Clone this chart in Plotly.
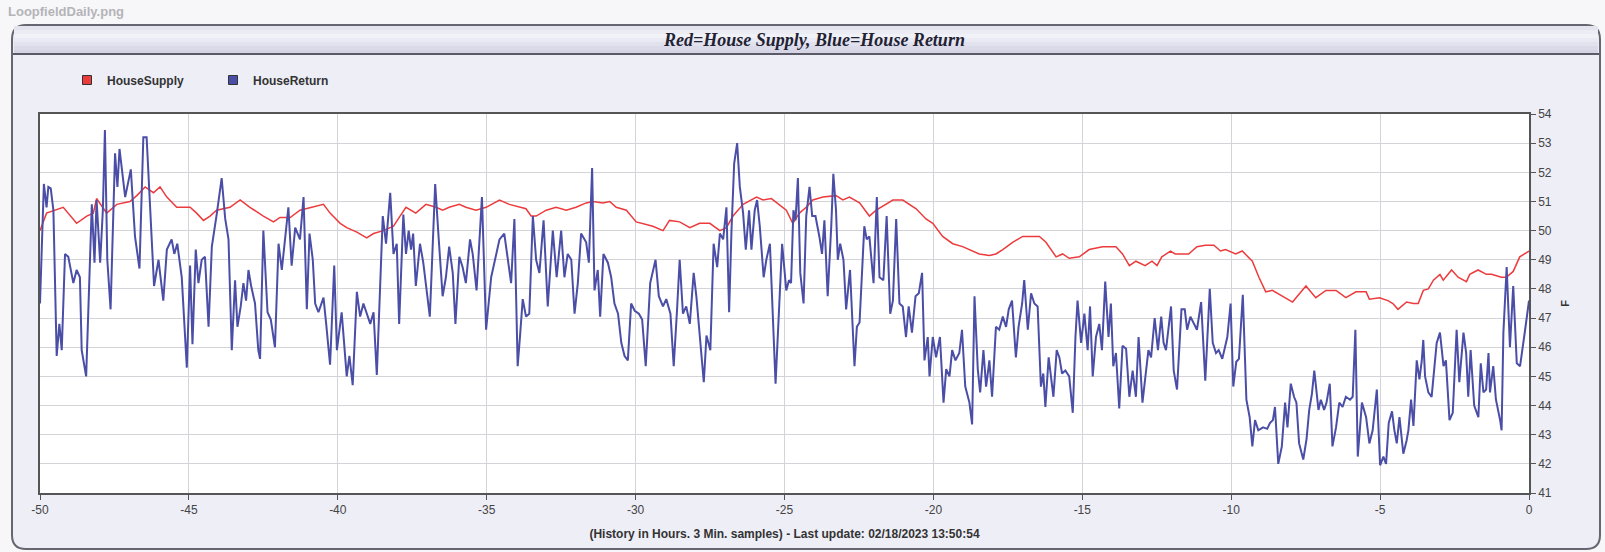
import plotly.graph_objects as go

# ---------------- data (hours before last update, degrees F) ----------------
supply_hours = [
    -50.0, -49.78, -49.22, -48.77, -48.43, -48.21, -48.10, -47.76, -47.42, -46.98,
    -46.75, -46.47, -46.19, -45.97, -45.74, -45.41, -44.96, -44.74, -44.51, -44.29,
    -44.07, -43.62, -43.28, -42.95, -42.50, -42.16, -41.94, -41.60, -41.27, -40.82,
    -40.48, -40.26, -39.92, -39.70, -39.36, -39.03, -38.80, -38.47, -38.13, -37.91,
    -37.71, -37.38, -37.04, -36.70, -36.48, -36.26, -35.92, -35.70, -35.36, -35.02,
    -34.57, -34.24, -33.90, -33.68, -33.51, -33.34, -33.00, -32.67, -32.33, -32.00,
    -31.66, -31.43, -31.10, -30.87, -30.65, -30.31, -29.98, -29.64, -29.42, -29.08,
    -28.86, -28.52, -28.18, -27.85, -27.51, -27.17, -26.95, -26.73, -26.39, -25.94,
    -25.72, -25.44, -25.17, -24.94, -24.72, -24.50, -24.27, -24.05, -23.71, -23.27,
    -23.04, -22.82, -22.48, -22.15, -21.92, -21.59, -21.36, -21.03, -20.81, -20.58,
    -20.25, -20.02, -19.69, -19.35, -19.02, -18.79, -18.46, -18.12, -17.90, -17.67,
    -17.34, -17.00, -16.67, -16.44, -16.22, -15.88, -15.66, -15.44, -15.10, -14.77,
    -14.32, -13.87, -13.65, -13.42, -13.20, -12.89, -12.66, -12.49, -12.33, -12.04,
    -11.88, -11.65, -11.43, -11.15, -10.87, -10.58, -10.36, -10.19, -9.85, -9.63,
    -9.29, -9.07, -8.84, -8.62, -8.28, -7.94, -7.78, -7.49, -7.16, -6.82,
    -6.48, -6.15, -5.81, -5.47, -5.36, -5.02, -4.74, -4.57, -4.40, -4.11,
    -3.88, -3.72, -3.55, -3.38, -3.21, -2.99, -2.88, -2.60, -2.38, -2.10,
    -1.99, -1.71, -1.43, -1.26, -1.09, -0.93, -0.76, -0.53, -0.31, -0.14,
    0.0,
]
supply_f = [
    50.0, 50.6, 50.8, 50.25, 50.5, 50.6, 51.1, 50.6, 50.9, 51.0,
    51.2, 51.5, 51.3, 51.5, 51.15, 50.8, 50.8, 50.6, 50.35, 50.5,
    50.7, 50.8, 51.05, 50.8, 50.5, 50.3, 50.45, 50.45, 50.7, 50.8,
    50.9, 50.6, 50.25, 50.1, 49.95, 49.75, 49.9, 50.0, 50.15, 50.5,
    50.8, 50.6, 50.9, 50.8, 50.7, 50.8, 50.9, 50.8, 50.7, 50.8,
    51.05, 50.9, 50.8, 50.75, 50.5, 50.5, 50.7, 50.8, 50.7, 50.8,
    50.95, 51.0, 50.95, 51.0, 50.8, 50.7, 50.3, 50.2, 50.15, 50.0,
    50.35, 50.3, 50.1, 50.25, 50.25, 50.0, 50.1, 50.5, 50.9, 51.15,
    51.05, 51.1, 50.9, 50.7, 50.25, 50.6, 50.8, 51.05, 51.15, 51.2,
    51.05, 51.15, 50.95, 50.5, 50.7, 50.9, 51.05, 51.05, 50.9, 50.75,
    50.4, 50.25, 49.8, 49.55, 49.45, 49.35, 49.2, 49.15, 49.2, 49.35,
    49.6, 49.8, 49.8, 49.8, 49.6, 49.1, 49.2, 49.05, 49.1, 49.35,
    49.45, 49.45, 49.2, 48.8, 48.95, 48.8, 48.95, 48.8, 49.1, 49.3,
    49.2, 49.2, 49.2, 49.45, 49.5, 49.5, 49.3, 49.35, 49.2, 49.3,
    48.95, 48.4, 47.9, 47.95, 47.75, 47.55, 47.75, 48.1, 47.7, 47.95,
    47.95, 47.7, 47.9, 47.9, 47.65, 47.7, 47.6, 47.5, 47.3, 47.55,
    47.5, 47.5, 47.95, 48.0, 48.3, 48.5, 48.3, 48.65, 48.4, 48.25,
    48.5, 48.65, 48.5, 48.5, 48.45, 48.4, 48.4, 48.6, 49.1, 49.2,
    49.3,
]

return_hours = [
    -50.0, -49.87, -49.78, -49.72, -49.64, -49.55, -49.44, -49.35, -49.27, -49.16,
    -49.05, -48.88, -48.77, -48.66, -48.60, -48.45, -48.26, -48.17, -48.10, -47.98,
    -47.89, -47.82, -47.74, -47.63, -47.48, -47.40, -47.33, -47.22, -47.14, -46.95,
    -46.81, -46.66, -46.53, -46.42, -46.30, -46.17, -46.02, -45.86, -45.74, -45.58,
    -45.49, -45.39, -45.24, -45.07, -44.96, -44.88, -44.77, -44.68, -44.57, -44.46,
    -44.34, -44.23, -44.06, -43.90, -43.78, -43.67, -43.56, -43.45, -43.37, -43.26,
    -43.17, -43.08, -43.00, -42.91, -42.78, -42.67, -42.61, -42.50, -42.36, -42.25,
    -42.11, -41.99, -41.88, -41.66, -41.55, -41.43, -41.27, -41.15, -41.04, -40.95,
    -40.84, -40.76, -40.65, -40.48, -40.39, -40.26, -40.12, -40.03, -39.87, -39.70,
    -39.61, -39.50, -39.36, -39.25, -39.14, -39.03, -38.91, -38.80, -38.69, -38.60,
    -38.49, -38.38, -38.24, -38.13, -38.02,
    -37.94, -37.80, -37.71, -37.62, -37.54, -37.47, -37.38, -37.24, -37.13, -36.98,
    -36.91, -36.85, -36.73, -36.61, -36.48, -36.37, -36.26, -36.14, -36.05, -35.92,
    -35.81, -35.70, -35.56, -35.47, -35.34, -35.16, -35.02, -34.85, -34.69, -34.57,
    -34.41, -34.29, -34.18, -34.07, -33.96, -33.88, -33.79, -33.68, -33.57, -33.45,
    -33.34, -33.23, -33.09, -32.95, -32.78, -32.65, -32.50, -32.39, -32.28, -32.16,
    -32.05, -31.94, -31.83, -31.66, -31.57, -31.46, -31.38, -31.27, -31.19, -31.08,
    -30.93, -30.82, -30.71, -30.59, -30.48, -30.37, -30.26, -30.15, -30.03, -29.89,
    -29.78, -29.66, -29.51, -29.33, -29.22, -29.08, -28.97, -28.83, -28.72, -28.61,
    -28.52, -28.41, -28.30, -28.18, -28.05, -27.96, -27.85, -27.71, -27.62, -27.49,
    -27.38, -27.26, -27.17, -27.06, -26.95, -26.86, -26.78, -26.69, -26.59, -26.50,
    -26.39, -26.30, -26.19, -26.11, -26.00, -25.92, -25.83, -25.70, -25.61, -25.49,
    -25.30, -25.19, -25.08, -24.94, -24.85, -24.78, -24.70, -24.63, -24.55, -24.47,
    -24.36, -24.27, -24.16, -24.07, -23.96, -23.83, -23.74, -23.66, -23.55, -23.43,
    -23.36, -23.27, -23.21, -23.13, -23.02, -22.93, -22.80, -22.65, -22.57, -22.48,
    -22.39, -22.32, -22.24, -22.15, -22.01, -21.90, -21.81, -21.68, -21.57, -21.45,
    -21.36, -21.25, -21.14, -21.03, -20.92, -20.83, -20.72, -20.60, -20.49, -20.38,
    -20.30, -20.19, -20.13, -20.02, -19.91, -19.78, -19.66, -19.57, -19.46, -19.37,
    -19.26, -19.13, -19.04, -18.93, -18.79, -18.70, -18.62, -18.51, -18.43, -18.32,
    -18.23, -18.12, -18.03, -17.90, -17.79, -17.67, -17.56, -17.47, -17.36, -17.23,
    -17.14, -17.02, -16.95, -16.83, -16.72, -16.61, -16.50, -16.39, -16.31, -16.24,
    -16.13, -15.97, -15.86, -15.77, -15.68, -15.57, -15.44, -15.32, -15.23, -15.16,
    -15.04, -14.93, -14.82, -14.74, -14.65, -14.54, -14.43, -14.34, -14.23, -14.12,
    -14.04, -13.96, -13.87, -13.76, -13.65, -13.53, -13.42, -13.31, -13.20,
    -13.11, -12.98, -12.87, -12.78, -12.69, -12.57, -12.46, -12.35, -12.27, -12.19,
    -12.02, -11.93, -11.82, -11.67, -11.56, -11.48, -11.37, -11.26, -11.15, -11.01,
    -10.87, -10.72, -10.62, -10.51, -10.42, -10.30, -10.13, -10.02, -9.93, -9.83,
    -9.74, -9.61, -9.49, -9.38, -9.29, -9.20, -9.09, -8.93, -8.79, -8.70,
    -8.60, -8.53, -8.42, -8.30, -8.19, -8.11, -8.00, -7.89, -7.81, -7.72,
    -7.58, -7.47, -7.38, -7.29, -7.21, -7.07, -6.99, -6.88, -6.80, -6.69,
    -6.60, -6.48, -6.37, -6.26, -6.15, -6.01, -5.92, -5.83, -5.75, -5.61,
    -5.47, -5.36, -5.25, -5.11, -5.00, -4.89, -4.80, -4.71, -4.60, -4.52,
    -4.44, -4.35,
    -4.22, -4.11, -4.05, -3.96, -3.88, -3.77, -3.68, -3.60, -3.55, -3.49,
    -3.38, -3.27, -3.10, -2.99, -2.87, -2.79, -2.67, -2.56, -2.43, -2.34,
    -2.20, -2.11, -2.04, -1.96, -1.84, -1.70, -1.62, -1.53, -1.44, -1.36,
    -1.31, -1.20, -1.11, -0.97, -0.92, -0.86, -0.75, -0.64, -0.53, -0.41,
    -0.30, -0.13, 0.0,
]
return_f = [
    47.5, 51.6, 50.8, 51.5, 51.45, 50.7, 45.7, 46.8, 45.9, 49.2,
    49.1, 48.2, 48.65, 48.4, 45.9, 45.0, 50.9, 48.9, 51.05, 48.9,
    50.7, 53.45, 49.0, 47.3, 52.65, 51.5, 52.8, 51.85, 51.15, 52.1,
    49.8, 48.7, 53.2, 53.2, 50.7, 48.1, 49.0, 47.6, 49.35, 49.7,
    49.2, 49.55, 48.4, 45.3, 48.8, 46.1, 49.35, 48.2, 49.0, 49.1,
    46.7, 49.45, 50.6, 51.8, 50.4, 49.7, 45.9, 48.3, 46.7, 47.4,
    48.2, 47.6, 48.65, 48.1, 47.5, 45.9, 45.6, 50.0, 47.2, 46.95,
    46.0, 49.55, 48.65, 50.8, 48.8, 50.1, 49.7, 51.15, 47.3, 49.9,
    49.0, 47.5, 47.2, 47.7, 46.8, 45.4, 48.8, 45.9, 47.2, 45.0,
    45.7, 44.7, 47.9, 47.05, 47.5, 47.2, 46.8, 47.2, 45.05, 47.5,
    50.5, 49.55, 51.3, 49.2, 49.55,
    46.8, 50.55, 49.2, 50.0, 49.35, 49.9, 48.1, 49.55, 48.9, 47.75,
    47.05, 48.55, 51.6, 49.7, 47.75, 48.4, 49.45, 48.55, 46.8, 49.1,
    48.75, 48.2, 49.7, 49.2, 47.95, 51.15, 46.6, 48.4, 49.1, 49.7,
    49.9, 49.1, 48.2, 50.4, 45.35, 46.4, 47.65, 47.05, 47.15, 50.5,
    49.0, 48.55, 50.35, 47.4, 50.0, 48.4, 50.0, 48.4, 49.2, 49.0,
    47.15, 48.2, 49.9, 49.6, 48.9, 52.15, 47.95, 48.65, 47.05, 49.2,
    48.9, 48.4, 47.5, 47.15, 46.15, 45.7, 45.55, 47.5, 47.25, 47.15,
    46.95, 45.35, 48.2, 49.0, 47.75, 47.4, 47.65, 47.15, 45.35, 47.25,
    49.0, 47.15, 47.4, 46.8, 48.55, 47.75, 46.5, 44.8, 46.4, 45.9,
    49.55, 48.75, 49.9, 49.7, 50.8, 47.2, 50.0, 52.3, 53.0, 51.5,
    50.6, 49.35, 50.7, 49.35, 50.7, 51.05, 50.15, 48.4, 49.0, 49.55,
    44.75, 47.05, 49.55, 47.95, 48.3, 48.2, 50.7, 50.35, 51.8, 48.55,
    47.5, 50.5, 51.5, 50.5, 50.5, 49.8, 49.2, 50.35, 47.75, 50.15,
    51.95, 50.7, 49.0, 49.55, 49.0, 47.3, 48.65, 45.35, 46.7, 46.85,
    48.9, 50.15, 49.7, 49.8, 48.2, 51.15, 48.4, 48.3, 50.5, 47.15,
    47.6, 50.4, 47.5, 47.4, 46.35, 47.4, 46.5, 47.75, 47.85, 48.55,
    45.55, 46.35, 45.0, 46.35, 45.65, 46.35, 44.1, 45.25, 45.0, 45.9,
    45.55, 45.8, 46.6, 44.65, 44.1, 43.35, 47.75, 45.25, 44.45, 45.9,
    44.65, 45.55, 44.3, 46.7, 46.6, 47.05, 46.7, 47.3, 47.6, 45.65,
    46.7, 47.5, 48.3, 46.6, 47.85, 47.5, 47.4, 44.65, 45.1, 43.95,
    45.65, 44.3, 45.9, 45.65, 45.1, 45.2, 45.0, 43.75, 46.35, 47.6,
    46.15, 47.15, 45.9, 47.4, 45.0, 46.35, 46.8, 45.9, 48.25, 46.35,
    47.5, 45.35, 45.8, 43.9, 46.05, 45.95, 44.3, 45.2, 44.3,
    46.35, 44.1, 45.2, 45.9, 45.65, 47.0, 45.9, 47.05, 46.15, 45.9,
    47.4, 45.2, 44.55, 47.3, 47.3, 46.6, 47.05, 46.8, 46.6, 47.55,
    44.85, 48.0, 46.15, 45.8, 45.9, 45.6, 46.35, 47.5, 44.65, 45.5,
    45.6, 47.8, 44.2, 43.6, 42.6, 43.5, 43.15, 43.25, 43.2, 43.4,
    43.5, 43.95, 42.0, 42.6, 44.1, 43.25, 44.75, 44.3, 44.1, 42.7,
    42.15, 42.85, 43.85, 44.4, 45.2, 43.85, 44.2, 43.85, 44.1, 44.75,
    42.6, 43.25, 44.1, 43.95, 44.3, 44.2, 44.3, 46.6, 42.25, 44.1,
    43.6, 42.7, 43.15, 44.55, 41.95, 42.25, 42.0, 43.4, 43.8, 43.15,
    42.7, 43.6,
    42.35, 42.8, 43.15, 44.2, 43.3, 45.55, 44.9, 45.55, 46.25, 45.0,
    44.45, 44.3, 46.15, 46.5, 45.35, 45.55, 43.5, 43.75, 46.6, 44.8,
    46.5, 45.8, 44.3, 45.9, 44.0, 43.6, 45.45, 44.45, 44.55, 45.8,
    44.45, 45.35, 44.2, 43.5, 43.15, 46.5, 48.75, 46.0, 48.1, 45.45,
    45.35, 46.6, 47.6,
]

x_ticks = [-50, -45, -40, -35, -30, -25, -20, -15, -10, -5, 0]
y_ticks = [41, 42, 43, 44, 45, 46, 47, 48, 49, 50, 51, 52, 53, 54]

series_names = ["HouseSupply", "HouseReturn"]
series_colors = ["#ec3b3d", "#4b4ea6"]

# ---------------- layout geometry (pixels) ----------------
W, H = 1605, 552
L, R, T, B = 40, 1529, 114, 493


def px(x):
    return (x - L) / (R - L)


def py(y):
    return (B - y) / (B - T)


def rounded_rect(x0, y0, x1, y1, r):
    def P(x, y):
        return f"{px(x):.5f},{py(y):.5f}"
    return (
        f"M {P(x0 + r, y0)} L {P(x1 - r, y0)} Q {P(x1, y0)} {P(x1, y0 + r)} "
        f"L {P(x1, y1 - r)} Q {P(x1, y1)} {P(x1 - r, y1)} "
        f"L {P(x0 + r, y1)} Q {P(x0, y1)} {P(x0, y1 - r)} "
        f"L {P(x0, y0 + r)} Q {P(x0, y0)} {P(x0 + r, y0)} Z"
    )


shapes = []
# outer panel
shapes.append(dict(type="path", xref="paper", yref="paper", layer="below",
                   path=rounded_rect(12, 25, 1600, 549, 14),
                   fillcolor="#eeeef7", line=dict(color="#666670", width=2)))
# header gradient bands
hdr_top, hdr_bot = 26, 54
band_cols = ["#e4e4ee", "#ececf5", "#f1f1f8", "#eaeaf4", "#e2e2ef", "#dadae9", "#d4d4e5"]
nb = len(band_cols)
for i, c in enumerate(band_cols):
    y0 = hdr_top + (hdr_bot - hdr_top) * i / nb
    y1 = hdr_top + (hdr_bot - hdr_top) * (i + 1) / nb
    shapes.append(dict(type="rect", xref="paper", yref="paper", layer="below",
                       x0=px(14), x1=px(1598), y0=py(y0), y1=py(y1 + 0.6),
                       fillcolor=c, line=dict(width=0)))
shapes.append(dict(type="line", xref="paper", yref="paper", layer="below",
                   x0=px(13), x1=px(1599), y0=py(54), y1=py(54),
                   line=dict(color="#5a5a66", width=2)))
# plot area background
shapes.append(dict(type="rect", xref="paper", yref="paper", layer="below",
                   x0=0, x1=1, y0=0, y1=1, fillcolor="white", line=dict(width=0)))

fig = go.Figure()
fig.add_trace(go.Scatter(x=supply_hours, y=supply_f, mode="lines", name=series_names[0],
                         line=dict(color=series_colors[0], width=1.5), showlegend=False,
                         hoverinfo="x+y"))
fig.add_trace(go.Scatter(x=return_hours, y=return_f, mode="lines", name=series_names[1],
                         line=dict(color=series_colors[1], width=2), showlegend=False,
                         hoverinfo="x+y"))
for nm, col in zip(series_names, series_colors):
    fig.add_trace(go.Scatter(x=[None], y=[None], mode="markers", name=nm,
                             marker=dict(symbol="square", size=9, color=col,
                                         line=dict(color="#333333", width=1))))

tick_font = dict(family="Liberation Sans Narrow, Arial Narrow, Liberation Sans, sans-serif",
                 size=12, color="#444444")

fig.update_layout(
    width=W, height=H, autosize=False,
    margin=dict(l=L, r=W - R, t=T, b=H - B, pad=0),
    paper_bgcolor="#f7f7f9",
    plot_bgcolor="rgba(0,0,0,0)",
    shapes=shapes,
    showlegend=True,
    legend=dict(orientation="h", x=px(67), y=py(80), xanchor="left", yanchor="middle",
                bgcolor="rgba(0,0,0,0)", borderwidth=0,
                font=dict(family="Liberation Sans, Arial, sans-serif", size=12, color="#333333",
                          weight="bold"),
                itemwidth=30, entrywidth=101, entrywidthmode="pixels",
                tracegroupgap=0),
    annotations=[
        dict(text="Red=House Supply, Blue=House Return", xref="paper", yref="paper",
             x=px(814), y=py(40), xanchor="center", yanchor="middle", showarrow=False,
             font=dict(family="Liberation Serif, Times New Roman, serif", size=18,
                       color="#222233", weight="bold", style="italic")),
        dict(text="LoopfieldDaily.png", xref="paper", yref="paper",
             x=px(6), y=py(12), xanchor="left", yanchor="middle", showarrow=False,
             font=dict(family="Liberation Sans, Arial, sans-serif", size=13,
                       color="#b4b4b8", weight="bold")),
    ],
    xaxis=dict(
        range=[-50, 0], tickvals=x_ticks, ticktext=[str(v) for v in x_ticks],
        showgrid=True, gridcolor="#d4d4d8", gridwidth=1,
        showline=True, linecolor="#555555", linewidth=1.5, mirror=True,
        ticks="outside", ticklen=5, tickcolor="#555555",
        tickfont=tick_font, zeroline=False,
        title=dict(text="(History in Hours. 3 Min. samples) - Last update: 02/18/2023 13:50:54",
                   font=dict(family="Liberation Sans Narrow, Arial Narrow, Liberation Sans, sans-serif",
                             size=12, color="#333333", weight="bold"),
                   standoff=13),
    ),
    yaxis=dict(
        range=[41, 54], tickvals=y_ticks, ticktext=[str(v) for v in y_ticks],
        side="right",
        showgrid=True, gridcolor="#d4d4d8", gridwidth=1,
        showline=True, linecolor="#555555", linewidth=1.5, mirror=True,
        ticks="outside", ticklen=5, tickcolor="#555555",
        tickfont=tick_font, zeroline=False,
        title=dict(text="F", font=dict(family="Liberation Sans, Arial, sans-serif", size=11,
                                       color="#333333", weight="bold"),
                   standoff=10),
    ),
)

fig.write_html("out.html", config={"displayModeBar": False},
               post_script="document.body.style.margin='0';")
